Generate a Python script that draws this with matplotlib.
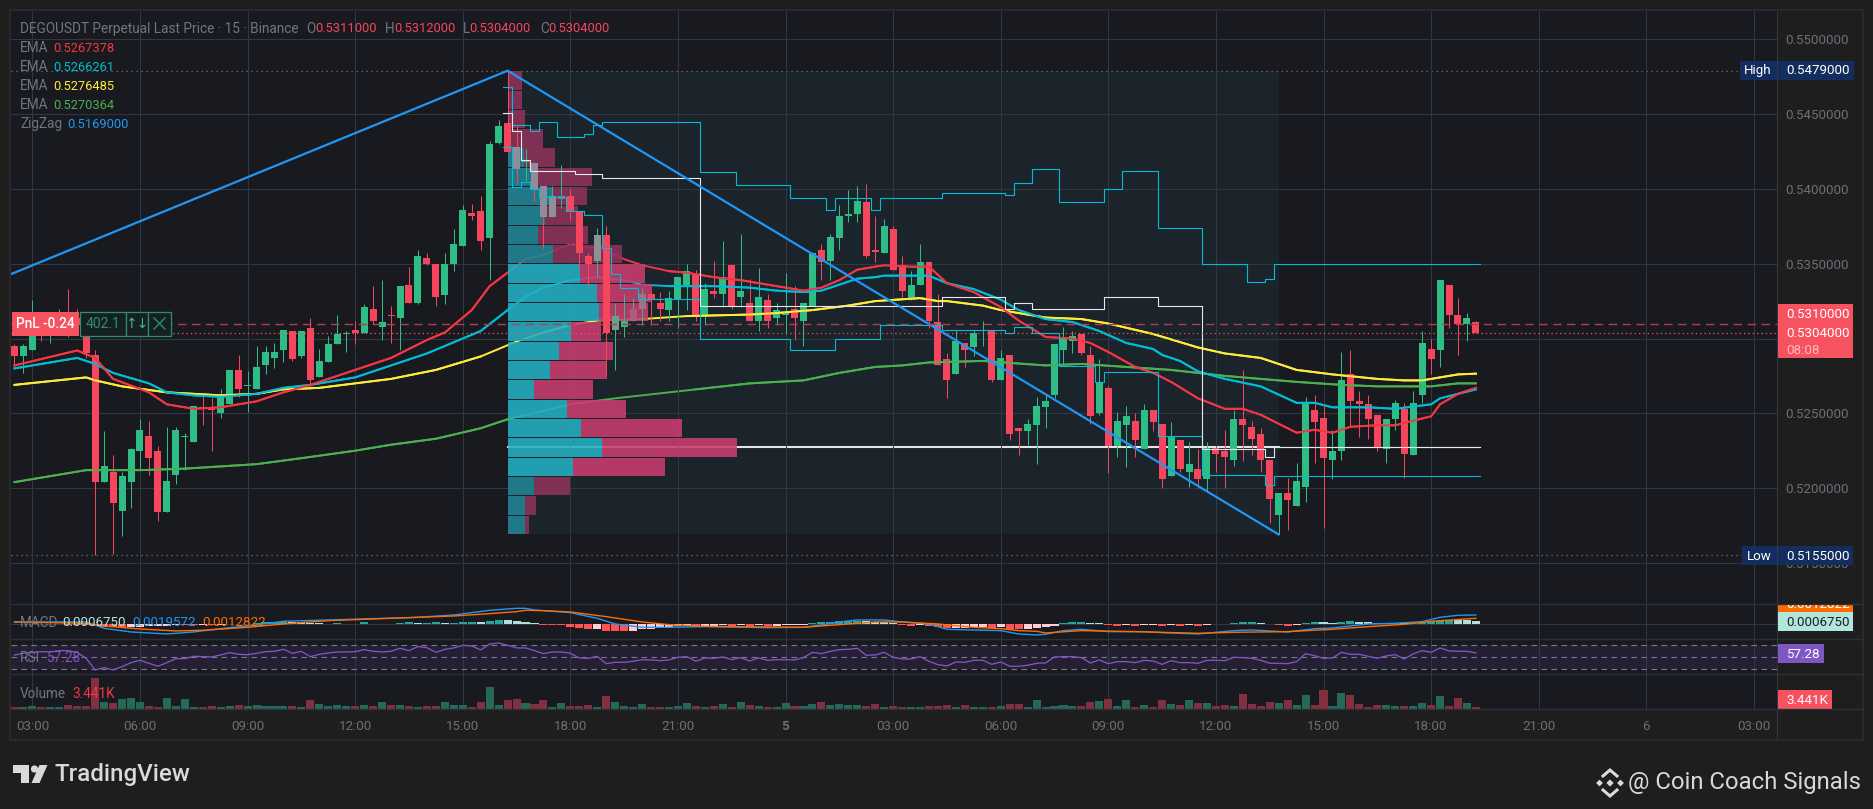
import matplotlib
matplotlib.use("Agg")
import matplotlib.pyplot as plt
from matplotlib.patches import Rectangle, Polygon, Circle
import numpy as np

plt.rcParams['font.family'] = ['Roboto', 'DejaVu Sans']

# Candles, bar -2 to bar 161 (15 min bars, bar 0 = 03:00), prices in 0.0001
opens = [5295,5288,5292,5308,5302,5307,5312,5314,5305,5289,5204,5211,5185,5204,5225,5235,5225,5184,5209,5234,
         5231,5254,5253,5250,5256,5279,5268,5266,5282,5287,5292,5305,5288,5307,5274,5284,5296,5303,5306,5304,
         5320,5308,5316,5314,5336,5324,5354,5350,5329,5350,5362,5384,5385,5367,5431,5444,5428,5418,5417,5402,
         5381,5393,5395,5385,5355,5352,5369,5306,5308,5312,5320,5330,5324,5319,5326,5336,5343,5316,5332,5330,
         5349,5328,5324,5312,5326,5314,5316,5320,5312,5322,5359,5352,5367,5382,5383,5391,5359,5357,5373,5349,
         5326,5336,5351,5311,5286,5276,5297,5294,5305,5305,5272,5289,5240,5238,5242,5254,5262,5292,5298,5303,
         5289,5250,5267,5228,5242,5245,5226,5252,5243,5208,5232,5211,5213,5206,5227,5225,5219,5246,5241,5236,
         5219,5182,5197,5188,5201,5252,5247,5219,5225,5276,5258,5256,5249,5226,5246,5253,5222,5262,5293,5292,
         5336,5316,5310,5311]
highs = [5296,5296,5326,5312,5312,5320,5333,5320,5316,5292,5238,5222,5211,5227,5246,5245,5228,5241,5241,5237,
         5255,5262,5260,5266,5279,5289,5278,5295,5295,5297,5306,5305,5305,5314,5293,5302,5316,5305,5312,5323,
         5335,5339,5322,5335,5348,5359,5357,5350,5357,5373,5389,5390,5395,5432,5446,5479,5442,5427,5417,5402,
         5402,5416,5400,5385,5357,5374,5375,5323,5330,5327,5334,5331,5331,5332,5341,5350,5346,5337,5352,5365,
         5349,5370,5340,5347,5330,5324,5344,5335,5324,5358,5363,5370,5389,5399,5402,5403,5382,5380,5375,5355,
         5345,5363,5351,5330,5290,5306,5297,5306,5312,5305,5292,5289,5240,5246,5261,5262,5296,5308,5305,5303,
         5295,5286,5268,5251,5255,5250,5256,5252,5243,5244,5232,5231,5226,5231,5228,5239,5252,5279,5245,5240,
         5219,5197,5207,5217,5261,5262,5255,5239,5291,5292,5265,5262,5249,5246,5259,5257,5265,5305,5300,5339,
         5336,5327,5317,5312]
lows = [5281,5277,5292,5298,5297,5303,5301,5305,5287,5155,5204,5156,5168,5187,5212,5209,5178,5184,5203,5212,
        5231,5242,5225,5247,5256,5261,5251,5266,5276,5280,5284,5285,5287,5266,5274,5284,5296,5291,5296,5304,
        5310,5299,5297,5292,5324,5323,5349,5322,5323,5345,5362,5379,5359,5339,5430,5425,5403,5405,5392,5360,
        5381,5387,5379,5347,5335,5341,5275,5279,5301,5312,5309,5309,5312,5312,5307,5319,5312,5309,5327,5321,
        5320,5321,5312,5305,5307,5309,5303,5299,5295,5322,5339,5339,5359,5378,5378,5354,5351,5357,5346,5328,
        5326,5336,5307,5282,5260,5276,5281,5288,5295,5271,5272,5232,5222,5229,5216,5240,5260,5282,5290,5289,
        5243,5249,5210,5221,5214,5221,5226,5238,5200,5208,5211,5201,5200,5198,5211,5200,5215,5218,5222,5211,
        5177,5169,5172,5188,5191,5217,5173,5206,5219,5241,5234,5233,5225,5217,5239,5207,5222,5257,5276,5281,
        5307,5289,5298,5304]
closes = [5288,5295,5302,5302,5309,5311,5306,5309,5290,5204,5215,5190,5208,5226,5239,5220,5184,5205,5239,5235,
          5255,5253,5252,5261,5279,5266,5269,5281,5291,5291,5306,5286,5305,5272,5285,5296,5303,5304,5304,5321,
          5312,5311,5315,5335,5324,5355,5350,5328,5350,5363,5386,5382,5365,5430,5442,5425,5413,5419,5399,5381,
          5395,5395,5385,5357,5350,5369,5304,5315,5312,5320,5330,5326,5320,5327,5341,5345,5315,5333,5330,5341,
          5322,5332,5312,5328,5312,5319,5318,5314,5324,5357,5351,5368,5382,5383,5392,5355,5358,5375,5346,5332,
          5336,5351,5312,5282,5272,5298,5292,5304,5306,5272,5287,5236,5238,5243,5255,5258,5296,5301,5302,5290,
          5248,5271,5228,5245,5248,5232,5252,5244,5206,5235,5213,5216,5206,5227,5223,5221,5246,5242,5233,5219,
          5193,5197,5192,5205,5257,5244,5220,5225,5272,5258,5256,5246,5227,5246,5257,5223,5257,5297,5286,5339,
          5316,5310,5314,5304]

# EMA lines, read at these bars, prices in 0.0001
ema_red_bars = [-2,5,7,9,13,15,18,21,25,28,31,36,40,44,46,49,51,53,55,57,60,62,64,66,68,71,73,76,79,82,86,88,90,92,
                94,95,98,100,102,105,108,110,113,116,118,120,123,125,127,130,133,135,137,141,143,145,147,150,152,156,157,159,161]
ema_red = [5282,5292,5287,5273,5264,5256,5253,5254,5258,5264,5269,5279,5287,5299,5304,5319,5335,5344,5353,5356,5363,5361,5359,5353,5349,5345,5344,5341,5339,5336,
           5332,5334,5339,5346,5348,5349,5348,5348,5337,5331,5321,5312,5301,5300,5297,5291,5281,5277,5271,5260,5253,5253,5249,5237,5239,5237,5241,5242,5242,5248,5256,5263,5267]
ema_cyan_bars = [-2,5,7,9,13,15,18,21,25,28,31,36,40,44,46,50,53,55,57,60,63,66,68,71,73,76,80,83,86,88,92,94,95,98,100,102,
                 105,108,110,113,116,119,122,125,126,128,130,133,137,141,143,145,149,152,156,157,159,161]
ema_cyan = [5280,5287,5283,5277,5270,5264,5262,5261,5263,5267,5269,5274,5282,5290,5295,5305,5319,5328,5334,5339,5341,5339,5336,5335,5335,5335,5334,5332,5331,5332,5340,5341,5342,5342,5342,5337,
            5333,5326,5319,5313,5311,5305,5297,5293,5289,5285,5278,5273,5268,5257,5257,5254,5254,5253,5256,5260,5263,5266]
ema_yellow_bars = [-2,6,7,10,15,18,21,25,28,32,36,40,45,50,54,57,60,63,68,73,80,83,87,91,94,99,101,102,106,108,113,117,120,125,130,133,137,141,145,150,153,155,157,159,161]
ema_yellow = [5269,5274,5272,5268,5264,5263,5262,5263,5266,5267,5270,5273,5279,5288,5298,5304,5309,5312,5313,5315,5316,5317,5319,5322,5325,5327,5325,5325,5322,5319,5314,5313,5310,5303,5294,5290,5287,5279,5276,5273,5272,5272,5274,5276,5276.5]
ema_green_bars = [-2,6,12,17,25,30,36,40,45,50,53,60,65,74,80,86,90,94,97,100,106,113,117,122,127,133,137,141,146,150,154,156,159,161]
ema_green = [5204,5212,5212,5213,5216,5220,5225,5229,5233,5240,5246,5256,5260,5266,5270,5272,5277,5281,5282,5284,5285,5282,5283,5281,5279,5275,5273,5271,5269,5268,5268,5268,5270,5270]

# ZigZag pivots
zigzag_bars = [-2.4, 53, 139]
zigzag = [5343, 5479, 5169]

# Visible range volume profile, top row first
vp_top = 5479
vp_bottom = 5169
vp_up = [0,0,0,0,16,27,45,37,30,45,72,89,91,63,51,42,26,59,73,94,65,26,17,17]
vp_down = [14,14,17,35,31,57,34,33,50,69,65,55,49,30,54,57,59,59,101,135,92,36,11,4]
vp_first_bar = 53
vp_last_bar = 139
vp_last_line_bar = 161.3
vp_poc = 5227.5

# Developing value area and POC steps (bar where each level starts)
vah_bars = [52.5,53.5,55.5,56.5,58.5,61.5,62.5,63.5,74.5,78.5,84.5,88.5,89.5,93.5,94.5,101.5,108.5,109.5,111.5,114.5,119.5,121.5,125.5,130.5,135.5,137.5,138.5,161.5]
vah = [5468,5443,5439,5444.5,5434.5,5436.5,5442.5,5445,5411,5402.4,5393.7,5385.7,5393.7,5385.7,5393.7,5397,5396,5403.7,5413,5391,5400,5411.7,5374,5349.6,5338,5340,5349.6,5349.6]
dpoc_bars = [52.5,53.5,54.5,55.5,60.5,63.5,74.5,101.5,108.5,109.5,111.5,119.5,125.5,130.5,137.5,138.5,161.5]
dpoc = [5451,5439,5419,5412,5410,5407,5322,5328,5320,5323.5,5320,5327.5,5322,5226,5220.6,5227.7,5227.7]
val_bars = [52.5,53.5,54.5,55.5,56.5,59.5,61.5,63.5,64.5,65.5,67.5,74.5,84.5,89.5,94.5,101.5,108.5,109.5,111.5,114.5,118.5,119.5,125.5,130.5,137.5,138.5,161.5]
val = [5428,5401,5404.4,5399.8,5394.4,5385,5382.4,5360.3,5343,5334,5326.2,5300,5292,5300,5308.8,5305.5,5303.9,5307.4,5303.4,5281.6,5271,5277.4,5234.6,5208.5,5201.8,5207.9,5207.9]

last_price = 5304
entry_price = 5310
high_price = 5479
low_price = 5155
price_ticks = [5150,5200,5250,5300,5350,5400,5450,5500]

# MACD, readings off the pane, one unit = 0.72e-4
macd_unit = 0.72e-4
macd_hist = [1,1,1,1,0.5,0,-1,-2,-2,-5,
             -7,-8,-9,-8,-7,-6,-5,-4,-3,-3,
             -3,-2,-2,-1,1,2,2,5,6,7,
             9,8,7,3,3,2,3,2,2,7,
             2,2,1,5,6,4,5,6,3,5,
             6,7,6,10,13,12.5,10,7,4,-2,
             -3,-3,-8,-11,-14,-13.5,-20,-20,-20,-19,
             -15,-14,-12,-8,-6,-5,-8,-5,-4,-3,
             -6,-2,-6,-3,-6,-5,-3,-2.5,-2,3,
             6,6.5,9,10,11,10,8,7,4,-2,
             -4,-3,-6,-9,-12,-11,-10,-8,-7,-10,
             -7,-14,-14.5,-13,-10,-8,-4,5,7,7.5,
             4,3.5,-2,-4,-3,-4,-2,-1.5,-4,-3,
             -4,-3,-4,-3,1,1.5,4,7,7.5,3.5,
             1.5,-2,-4,-2,4,7,6,5,8,9,
             8,7,5,4,5,3,4,7,9,11,
             13,12,11.5,10]
macd_bars = [-2,6,8,11,15,18,21,24,28,33,38,43,47,51,54,55,56,60,63,65,68,71,75,82,86,88,90,92,95,97,100,102,105,108,110,112,113,115,117,120,124,126,130,134,136,140,143,145,149,152,155,157,159,161]
macd_line = [7,7,-12,-23,-29,-23,-13,-5,9,13,17,21,28,42,48,48,43,35,18,1,-9,-9,-7,-10,-9,-2,7,13,13,7,1,-15,-17,-19,-29,-32,-30,-19,-15,-22,-22,-25,-29,-19,-17,-23,-13,-11,1,3,8,21,27,28]
signal_bars = [-2,6,8,12,16,19,24,28,33,38,43,47,51,54,55,57,60,64,68,71,75,82,86,90,94,97,101,105,108,110,112,113,117,123,130,134,140,145,149,153,156,161]
signal_line = [7,3,-5,-14,-20,-18,-9,1,11,16,21,25,32,38,42,41,37,23,7,-1,-6,-8,-9,-1,7,7,1,-9,-13,-19,-21,-26,-19,-22,-27,-24,-22,-15,-7,0,9,18]

# RSI per bar
rsi = [53.9,56.7,58.3,59.4,58.9,61.1,61.1,57.8,48.3,28.9,32.8,28.9,34.4,41.1,45,40,35,41.1,47.8,47.8,
       51.7,51.1,50.6,53.9,57.8,55,54.4,56.7,59.4,60,63.3,56.7,60,51.1,55,57.2,58.9,58.9,59.4,62.8,
       60,58.9,60,65,61.1,67.8,66.1,58.3,63.3,65.6,70,68.9,62.2,72.2,73.9,70,65.6,65.6,61.1,56.1,
       58.9,58.9,56.7,48.9,48.3,51.7,39.4,41.7,41.7,43.3,46.1,45.6,44.4,45.6,50,51.1,43.3,48.9,48.3,50.6,
       46.1,49.4,43.9,48.9,45,46.1,46.1,45.6,49.4,58.3,56.1,60,62.8,63.3,65,53.3,53.9,58.3,50,47.2,
       47.2,51.1,43.3,37.8,35.6,42.2,41.7,45,45,38.3,42.2,35,35,36.7,40,40.6,50.6,51.1,51.1,49.4,
       40.6,45.6,39.4,42.8,42.8,41.1,45,43.9,38.3,44.4,41.1,41.1,40,45,45,44.4,50,49.4,48.3,45,
       40,40,39.4,42.8,56.1,52.8,48.3,48.9,58.3,55,55,51.7,48.3,52.2,54.4,47.2,55.6,61.1,58.3,65.6,
       60.6,60,60,57.28]

# Volume, readings off the pane, one unit = 0.5735K
vol_unit = 0.5735
volume = [6,6,10,6,6,6,13,9,9,94,
          22,19,31,34,22,9,6,34,10,31,
          6,6,9,6,9,12,9,12,9,9,
          9,9,6,28,16,9,12,9,9,12,
          9,22,12,12,9,6,9,9,22,12,
          12,6,22,67,12,28,31,19,16,28,
          6,19,9,9,12,6,40,22,9,6,
          16,6,6,6,9,19,9,6,9,16,
          6,22,12,9,6,6,19,9,9,16,
          22,12,16,12,12,9,16,6,9,6,
          6,6,9,9,12,6,12,6,6,6,
          9,16,16,6,28,6,9,12,9,9,
          22,25,31,9,28,6,12,6,28,16,
          12,28,19,19,9,12,9,46,16,9,
          22,19,28,12,43,12,58,9,49,43,
          16,6,12,12,9,9,9,19,12,40,
          9,34,19,6]

tick_bars = [0,12,24,36,48,60,72,84,96,108,120,132,144,156,168,180,192]
tick_labels = ['03:00','06:00','09:00','12:00','15:00','18:00','21:00','5','03:00','06:00','09:00','12:00','15:00','18:00','21:00','6','03:00']

W, H = 1874, 809
BG = '#1e1e1e'
CHART = '#181a20'
GRID = '#323843'
LINE = '#2c3038'
UP = '#2ebd85'
DOWN = '#f6465d'
LEFT, RIGHT = 11, 1776.7
BAR0 = 32.4
BAR_PX = 8.966

fig = plt.figure(figsize=(W / 100, H / 100), dpi=100, facecolor=BG)


def pane(top, bottom):
    a = fig.add_axes([LEFT / W, 1 - bottom / H, (RIGHT - LEFT) / W, (bottom - top) / H], facecolor=CHART)
    a.set_xlim((LEFT - BAR0) / BAR_PX, (RIGHT - BAR0) / BAR_PX)
    for s in a.spines.values():
        s.set_visible(False)
    a.set_xticks(tick_bars)
    a.set_xticklabels([])
    a.set_yticks([])
    a.tick_params(length=0)
    a.grid(True, axis='x', color=GRID, lw=0.72, zorder=0)
    a.set_axisbelow(True)
    return a


bars = np.arange(-2, 162)
o, h, l, c = [np.array(v) / 1e4 for v in (opens, highs, lows, closes)]
up = c >= o

# main pane
ax = pane(11, 604.3)
px_per_price = 14960
ax.set_ylim(0.55 - (604.3 - 39.3) / px_per_price, 0.55 + (39.3 - 11) / px_per_price)
ax.yaxis.tick_right()
ax.set_yticks(np.array(price_ticks) / 1e4)
ax.set_yticklabels(['%.7f' % (t / 1e4) for t in price_ticks], fontsize=9.6, color='#6b6f78')
ax.tick_params(axis='y', length=0, pad=6)
ax.grid(True, axis='y', color=GRID, lw=0.72, zorder=0)

# profile background box
ax.add_patch(Rectangle((vp_first_bar, vp_bottom / 1e4), vp_last_bar - vp_first_bar, (vp_top - vp_bottom) / 1e4,
                       facecolor='#1b232b', edgecolor='none', zorder=1))
ax.grid(True, axis='both', color=GRID, lw=0.72, zorder=1.2)
ax.set_axisbelow(False)
for gl in ax.get_xgridlines() + ax.get_ygridlines():
    gl.set_zorder(1.2)

# key levels
ax.axhline(high_price / 1e4, color='#73767c', lw=0.9, ls=(0, (1, 3)), zorder=1.5)
ax.axhline(low_price / 1e4, color='#73767c', lw=0.9, ls=(0, (1, 3)), zorder=1.5)
ax.axhline(entry_price / 1e4, color='#b83a4f', lw=1.0, ls=(0, (6, 4)), zorder=6)
ax.axhline(last_price / 1e4, color='#f7525f', lw=0.9, ls=(0, (1, 2.5)), zorder=6)

# EMA under the profile and again over the candles outside it
ema_lines = [(ema_green_bars, ema_green, '#4caf50'), (ema_yellow_bars, ema_yellow, '#ffeb3b'),
             (ema_cyan_bars, ema_cyan, '#00bcd4'), (ema_red_bars, ema_red, '#f23645')]
for xs, ys, col in ema_lines:
    xs = np.array(xs, float)
    ys = np.array(ys) / 1e4
    ax.plot(xs, ys, color=col, lw=1.4, zorder=2)
    ax.plot(xs, np.where((xs > 53) & (xs < 69), np.nan, ys), color=col, lw=1.4, zorder=4.5)

# point of control, thick across the profile range
ax.plot([vp_first_bar, vp_last_bar], [vp_poc / 1e4] * 2, color='#e4e4e4', lw=1.5, zorder=2.5)
ax.plot([vp_last_bar, vp_last_line_bar], [vp_poc / 1e4] * 2, color='#e4e4e4', lw=0.8, zorder=2.5)

# volume profile rows
edges = np.linspace(vp_top, vp_bottom, len(vp_up) + 1) / 1e4
row_h = edges[0] - edges[1]
centers = (edges[:-1] + edges[1:]) / 2
for k, (u, d) in enumerate(zip(vp_up, vp_down)):
    bright = 10 <= k <= 20
    u_bars = u / BAR_PX
    d_bars = d / BAR_PX
    ax.barh(centers[k], u_bars, left=vp_first_bar, height=row_h * 0.95,
            color='#22b1c4' if bright else '#208696', alpha=0.88, lw=0, zorder=3)
    ax.barh(centers[k], d_bars, left=vp_first_bar + u_bars, height=row_h * 0.95,
            color='#ca3d70' if bright else '#90325c', alpha=0.88, lw=0, zorder=3)

# candles
ghosts = {54: '#8f8d99', 56: '#8f8d99', 57: '#8f8d99', 58: '#8b9397', 59: '#7f7f85', 63: '#8b9397',
          65: '#6f9f8c', 67: '#a8607f', 68: '#9b7488'}
colors = [ghosts.get(b, UP if g else DOWN) for b, g in zip(bars, up)]
wick_colors = [UP if g else DOWN for g in up]
ax.vlines(bars, l, h, colors=wick_colors, lw=0.72, zorder=4)
ax.bar(bars, np.maximum(np.abs(c - o), 1e-4), bottom=np.minimum(o, c), width=0.78, color=colors, lw=0, zorder=4.2)

# developing value area / POC
ax.plot(vah_bars, np.array(vah) / 1e4, drawstyle='steps-post', color='#00bcd4', lw=0.8, zorder=5)
ax.plot(val_bars, np.array(val) / 1e4, drawstyle='steps-post', color='#00bcd4', lw=0.8, zorder=5)
ax.plot(dpoc_bars, np.array(dpoc) / 1e4, drawstyle='steps-post', color='#e8e8e8', lw=0.8, zorder=5)

ax.plot(zigzag_bars, np.array(zigzag) / 1e4, color='#2196f3', lw=1.6, zorder=5.5)

# MACD pane
ax_macd = pane(604.3, 639.3)
ax_macd.set_ylim(-15 * 0.000216, 20 * 0.000216)
ax_macd.axhline(0, color=GRID, lw=0.72, zorder=1)
hist = np.array(macd_hist) * macd_unit
prev = np.concatenate(([hist[0]], hist[:-1]))
hist_colors = []
for v, p in zip(hist, prev):
    if v >= 0:
        hist_colors.append('#26a69a' if v > p else '#b2dfdb')
    else:
        hist_colors.append('#ffcdd2' if v > p else '#ff5252')
ax_macd.bar(bars, hist, width=0.9, color=hist_colors, lw=0, zorder=2)
ax_macd.plot(macd_bars, np.array(macd_line) * macd_unit, color='#2196f3', lw=1.0, zorder=3)
ax_macd.plot(signal_bars, np.array(signal_line) * macd_unit, color='#ff6d00', lw=1.0, zorder=3)

# RSI pane
ax_rsi = pane(639.3, 674.3)
ax_rsi.set_ylim(50 - (674.3 - 657.3) / 0.6, 50 + (657.3 - 639.3) / 0.6)
ax_rsi.axhspan(30, 70, facecolor='#241f33', edgecolor='none', zorder=0.5)
for lvl in (30, 50, 70):
    ax_rsi.axhline(lvl, color='#787b86', lw=0.8, ls=(0, (5, 4)), zorder=1.5)
ax_rsi.plot(bars, rsi, color='#7e57c2', lw=0.95, zorder=3)

# Volume pane
ax_vol = pane(674.3, 709.3)
vol_k = np.array(volume) * vol_unit
ax_vol.set_ylim(0, 35 / (2 / 3.441))
ax_vol.bar(bars, vol_k, width=0.9, color=['#246a56' if g else '#82303f' for g in up], lw=0, zorder=2)
ax_vol.set_xticklabels(tick_labels, fontsize=9.6, color='#6b6f78')
ax_vol.tick_params(axis='x', length=0, pad=8)
ax_vol.get_xticklabels()[7].set_fontweight('bold')

# overlay in pixels for legend, tags and logos
ov = fig.add_axes([0, 0, 1, 1], zorder=10)
ov.set_xlim(0, W)
ov.set_ylim(H, 0)
ov.axis('off')


def txt(x, y, s, color, size=9.6, ha='left', **kw):
    return ov.text(x, y + 1, s, color=color, fontsize=size, ha=ha, va='center', **kw)


def box(x0, y0, x1, y1, face, edge='none', lw=0.0, z=1):
    r = Rectangle((x0, y0), x1 - x0, y1 - y0, facecolor=face, edgecolor=edge, lw=lw, zorder=z)
    ov.add_patch(r)
    return r


# frame and pane separators
box(10, 10, 1863, 740, 'none', '#2a2a2c', 1.5)
ov.vlines(RIGHT, 11, 740, color=GRID, lw=0.72)
ov.hlines([604.3, 639.3, 674.3, 709.3], 11, 1863, color=LINE, lw=1.0)

GREY = '#6f7682'
txt(20, 27.5, 'DEGOUSDT Perpetual Last Price · 15 · Binance', GREY, 9.8)
for x_l, s_l, x_v, s_v in [(306, 'O', 315.5, '0.5311000'), (385, 'H', 394, '0.5312000'),
                           (463, 'L', 469, '0.5304000'), (540, 'C', 548, '0.5304000')]:
    txt(x_l, 27.5, s_l, GREY, 9.8)
    txt(x_v, 27.5, s_v, DOWN, 9.3)
for y, name, x_v, val_s, col in [(47, 'EMA', 53, '0.5267378', '#f23645'), (66, 'EMA', 53, '0.5266261', '#00bcd4'),
                                 (85, 'EMA', 53, '0.5276485', '#ffeb3b'), (104, 'EMA', 53, '0.5270364', '#4caf50'),
                                 (123, 'ZigZag', 67, '0.5169000', '#2196f3')]:
    txt(20, y, name, GREY, 9.8)
    txt(x_v, y, val_s, col, 9.3)

# pane legends
txt(20, 622, 'MACD', GREY, 9.8)
txt(62, 622, '0.0006750', '#b2e6dc', 9.6)
txt(132, 622, '0.0019572', '#2196f3', 9.6)
txt(202, 622, '0.0012822', '#ff6d00', 9.6)
txt(20, 657, 'RSI', GREY, 9.8)
txt(46.7, 657, '57.28', '#7e57c2', 9.8)
txt(20, 692.7, 'Volume', GREY, 9.8)
txt(72.7, 692.7, '3.441K', '#f23645', 9.8)

# position widget
box(12, 312, 79, 336, '#f7525f')
txt(16.5, 323, 'PnL -0.24', 'white', 9.8, fontweight='medium')
for x0, x1 in [(80, 126), (126, 148), (148, 171)]:
    box(x0, 312, x1, 336, '#162023', '#2a8f6e', 0.9)
txt(103, 323, '402.1', '#2a8f6e', 10, ha='center')
txt(137, 323, '↑↓', '#2ebd85', 10, ha='center')
ov.plot([154, 165], [318, 329], color='#2a8f6e', lw=1)
ov.plot([154, 165], [329, 318], color='#2a8f6e', lw=1)

# price tags
box(1740, 61, 1854, 80, '#132e5e')
txt(1758, 69, 'High', 'white', 9.6, ha='center')
txt(1786, 69.5, '0.5479000', 'white', 9.6)
box(1777, 304, 1853, 358, '#f7525f')
txt(1786, 313.5, '0.5310000', 'white', 9.6)
txt(1786, 332.5, '0.5304000', 'white', 9.6)
txt(1786, 349, '08:08', '#fbbcc2', 9.6)
box(1742, 546, 1853, 565, '#132e5e')
txt(1759, 555.5, 'Low', 'white', 9.6, ha='center')
txt(1786, 555.5, '0.5155000', 'white', 9.6)
orange = box(1777, 604.5, 1853, 612, '#ff6d00')
orange_text = txt(1786, 603, '0.0012822', 'white', 9.6, zorder=3)
orange_text.set_clip_on(True)
orange_text.set_clip_path(orange)
box(1777, 612, 1853, 631, '#b2e6dc')
txt(1786, 621, '0.0006750', '#1a1e22', 9.6)
box(1777, 644, 1824, 663, '#7e57c2')
txt(1786, 653, '57.28', 'white', 9.6)
box(1777, 690, 1832, 709, '#f7525f')
txt(1786, 699, '3.441K', 'white', 9.6)

# TradingView logo
LOGO = '#d9d9d9'
ov.add_patch(Polygon([(13, 765), (29.5, 765), (29.5, 783), (21, 783), (21, 773), (13, 773)], facecolor=LOGO, lw=0))
ov.add_patch(Circle((34.5, 769), 3.6, facecolor=LOGO, lw=0))
ov.add_patch(Polygon([(39.5, 765), (47.5, 765), (39.5, 783), (31.5, 783)], facecolor=LOGO, lw=0))
txt(55, 774, 'TradingView', LOGO, 17.4, fontweight='medium')

# Binance mark and author
ICON = '#d8dcdc'
cx, cy = 1610, 783
for dx, dy, r in [(-10.5, 0, 3.4), (10.5, 0, 3.4), (0, 0, 3.6)]:
    ov.add_patch(Polygon([(cx + dx - r, cy + dy), (cx + dx, cy + dy - r), (cx + dx + r, cy + dy), (cx + dx, cy + dy + r)],
                         facecolor=ICON, lw=0))
ov.plot([cx - 7, cx, cx + 7], [cy - 7, cy - 13, cy - 7], color=ICON, lw=2.2, solid_joinstyle='miter')
ov.plot([cx - 7, cx, cx + 7], [cy + 7, cy + 13, cy + 7], color=ICON, lw=2.2, solid_joinstyle='miter')
txt(1628, 782, '@ Coin Coach Signals', '#d5d9dd', 17.2)

fig.savefig('out.png', dpi=100, facecolor=BG)
